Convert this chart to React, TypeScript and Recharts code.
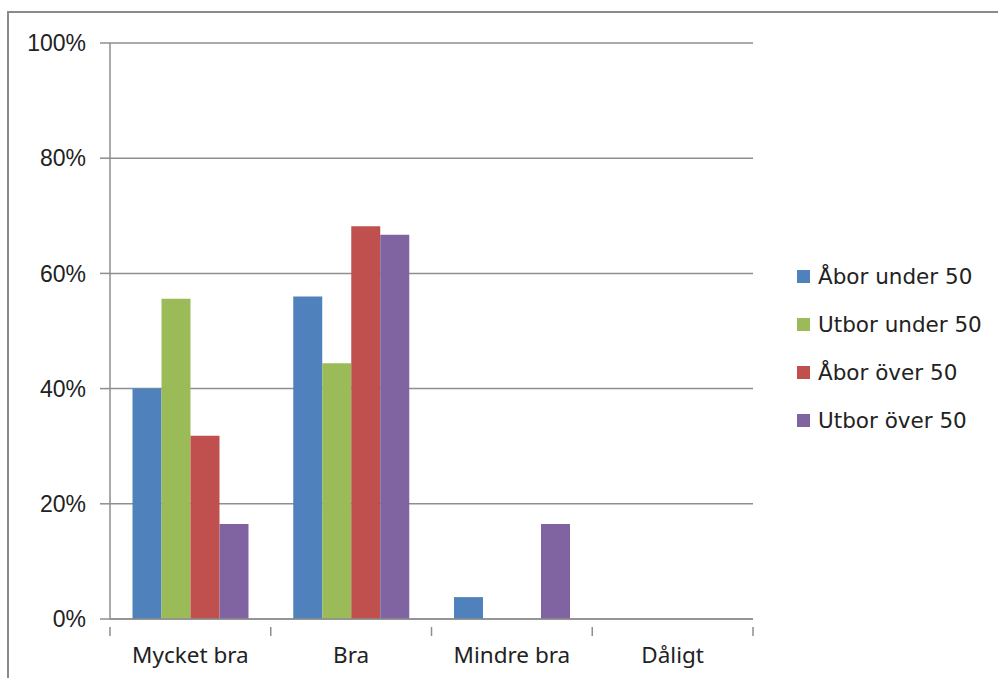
import { BarChart, Bar, XAxis, YAxis, CartesianGrid, Legend } from 'recharts'

const BLUE = '#4F81BD'
const GREEN = '#9BBB59'
const RED = '#C0504D'
const PURPLE = '#8064A2'
const AXIS = '#8E8E8E'

const categories = ['Mycket bra', 'Bra', 'Mindre bra', 'Dåligt']
const aborUnder = [0.4, 0.56, 0.038, 0]
const utborUnder = [0.556, 0.444, 0, 0]
const aborOver = [0.318, 0.682, 0, 0]
const utborOver = [0.165, 0.667, 0.165, 0]
const yTicks = [0, 0.2, 0.4, 0.6, 0.8, 1]

const series = [
  { key: 'aborUnder', name: 'Åbor under 50', color: BLUE },
  { key: 'utborUnder', name: 'Utbor under 50', color: GREEN },
  { key: 'aborOver', name: 'Åbor över 50', color: RED },
  { key: 'utborOver', name: 'Utbor över 50', color: PURPLE },
]

const data = categories.map((c, i) => ({
  cat: c,
  aborUnder: aborUnder[i],
  utborUnder: utborUnder[i],
  aborOver: aborOver[i],
  utborOver: utborOver[i],
}))

const W = 998
const H = 678
const MARGIN = { top: 43, right: 245, bottom: 19, left: 50 }
const Y_WIDTH = 60
const BAND = (W - MARGIN.left - Y_WIDTH - MARGIN.right) / categories.length

function CatTick(props: any) {
  const { x, y, payload, index } = props
  return (
    <g>
      <line x1={x - BAND / 2} x2={x - BAND / 2} y1={y} y2={y + 9} stroke={AXIS} strokeWidth={1.5} />
      {index === categories.length - 1 && (
        <line x1={x + BAND / 2} x2={x + BAND / 2} y1={y} y2={y + 9} stroke={AXIS} strokeWidth={1.5} />
      )}
      <text
        x={x}
        y={y + 36}
        textAnchor="middle"
        fill="#222"
        style={{ fontFamily: 'Noto Sans', fontSize: 22.5 }}
      >
        {payload.value}
      </text>
    </g>
  )
}

function renderLegend() {
  return (
    <div style={{ fontFamily: 'DejaVu Sans', fontSize: 21.5, color: '#222' }}>
      {series.map((s) => (
        <div key={s.key} style={{ display: 'flex', alignItems: 'center', height: 48 }}>
          <span
            style={{ display: 'inline-block', width: 13, height: 13, background: s.color, marginRight: 8 }}
          />
          {s.name}
        </div>
      ))}
    </div>
  )
}

export default function App() {
  return (
    <div style={{ position: 'absolute', left: 0, top: 0, width: W, height: H, background: '#fff', overflow: 'hidden' }}>
      <div
        style={{
          position: 'absolute',
          left: 7,
          top: 11,
          width: W,
          height: H,
          borderTop: '2px solid #8a8a8a',
          borderLeft: '2px solid #8a8a8a',
        }}
      />
      <BarChart
        width={W}
        height={H}
        data={data}
        margin={MARGIN}
        barCategoryGap="14%"
        barGap={0}
        style={{ position: 'absolute', left: 0, top: 0 }}
      >
        <CartesianGrid vertical={false} stroke={AXIS} strokeWidth={1.5} />
        <XAxis
          dataKey="cat"
          height={40}
          axisLine={{ stroke: AXIS, strokeWidth: 1.5 }}
          tickLine={false}
          tick={<CatTick />}
          interval={0}
        />
        <YAxis
          domain={[0, 1]}
          ticks={yTicks}
          width={Y_WIDTH}
          tickFormatter={(v) => `${Math.round(v * 100)}%`}
          axisLine={{ stroke: AXIS, strokeWidth: 1.5 }}
          tickLine={{ stroke: AXIS, strokeWidth: 1.5 }}
          tickSize={10}
          tickMargin={14}
          tick={{ fill: '#222', fontSize: 23, fontFamily: 'Liberation Sans' }}
        />
        <Legend
          layout="vertical"
          align="center"
          verticalAlign="middle"
          content={renderLegend}
          wrapperStyle={{ left: 797, top: 252, width: 200 }}
        />
        {series.map((s) => (
          <Bar key={s.key} dataKey={s.key} name={s.name} fill={s.color} isAnimationActive={false} />
        ))}
      </BarChart>
    </div>
  )
}
